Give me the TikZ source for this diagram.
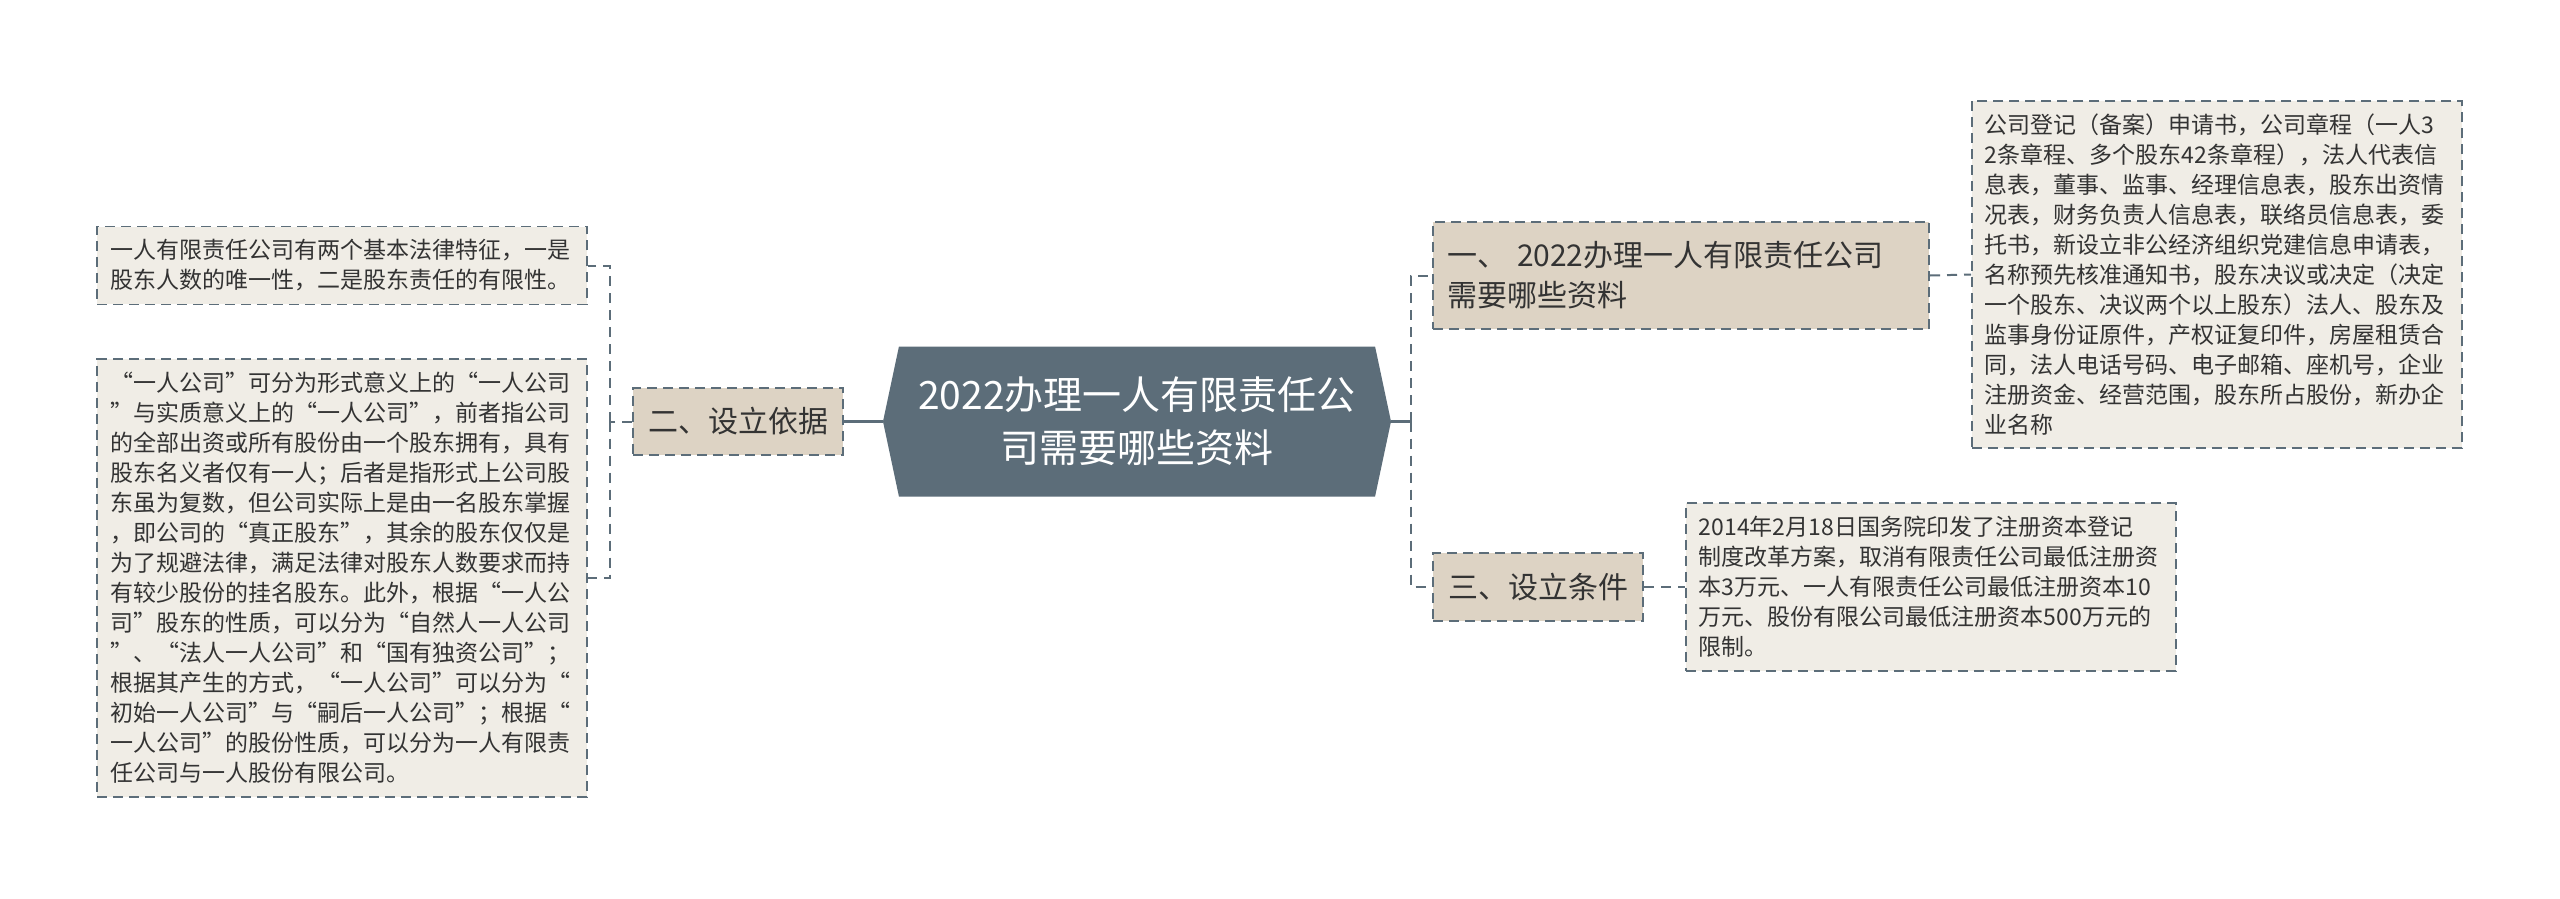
\documentclass[tikz,border=0pt]{standalone}
\usepackage{fontspec}
\setmainfont{Noto Sans CJK SC}
\usetikzlibrary{positioning, shapes.symbols}
\definecolor{SlateGrey}{HTML}{5C6D79}
\definecolor{Sand}{HTML}{DDD3C4}
\definecolor{Paper}{HTML}{F0EDE6}
\definecolor{Ink}{HTML}{333333}

\begin{document}
\begin{tikzpicture}[x=1pt, y=-1pt,
    rootnode/.style={shape=signal, signal to=east and west, signal pointer angle=156,
        fill=SlateGrey, text=white, minimum width=508pt, minimum height=150pt,
        inner sep=0pt, align=center, font=\fontsize{39pt}{53pt}\selectfont},
    branchbox/.style={draw=SlateGrey, fill=Sand, dash pattern=on 10pt off 6pt, line width=2pt,
        text=Ink, inner xsep=15pt, inner ysep=20pt, align=left,
        font=\fontsize{30pt}{40pt}\selectfont},
    detailbox/.style={draw=SlateGrey, fill=Paper, dash pattern=on 10pt off 6pt, line width=1.8pt,
        text=Ink, inner xsep=13pt, inner ysep=13pt, text width=464pt, align=left,
        font=\fontsize{23pt}{30pt}\selectfont},
    link/.style={draw=SlateGrey, line width=3pt},
    dlink/.style={draw=SlateGrey, line width=2pt, dash pattern=on 10pt off 7pt}]
        \fill [white] (0,0) rectangle (2560,899);
        \useasboundingbox (0,0) rectangle (2560,899);

        % Root
        \node [rootnode] (root) at (1137,421.5) {2022办理一人有限责任公\\司需要哪些资料};

        % Left branch
        \node [branchbox, anchor=west] (basis) at (632,421.5) {二、设立依据};
        \node [detailbox, anchor=east] (traits) at (588,265.5)
            {一人有限责任公司有两个基本法律特征，一是\\股东人数的唯一性，二是股东责任的有限性。};
        \node [detailbox, anchor=east] (kinds) at (588,578)
            {“一人公司”可分为形式意义上的“一人公司\\
             ”与实质意义上的“一人公司”，前者指公司\\
             的全部出资或所有股份由一个股东拥有，具有\\
             股东名义者仅有一人；后者是指形式上公司股\\
             东虽为复数，但公司实际上是由一名股东掌握\\
             ，即公司的“真正股东”，其余的股东仅仅是\\
             为了规避法律，满足法律对股东人数要求而持\\
             有较少股份的挂名股东。此外，根据“一人公\\
             司”股东的性质，可以分为“自然人一人公司\\
             ”、“法人一人公司”和“国有独资公司”；\\
             根据其产生的方式，“一人公司”可以分为“\\
             初始一人公司”与“嗣后一人公司”；根据“\\
             一人公司”的股份性质，可以分为一人有限责\\
             任公司与一人股份有限公司。};

        % Right branches
        \node [branchbox, anchor=west, text width=468pt, inner xsep=14pt] (docs) at (1432,275.5)
            {一、 2022办理一人有限责任公司\\需要哪些资料};
        \node [branchbox, anchor=west] (terms) at (1432,587) {三、设立条件};
        \node [detailbox, anchor=west] (doclist) at (1971,274.5)
            {公司登记（备案）申请书，公司章程（一人3\\
             2条章程、多个股东42条章程），法人代表信\\
             息表，董事、监事、经理信息表，股东出资情\\
             况表，财务负责人信息表，联络员信息表，委\\
             托书，新设立非公经济组织党建信息申请表，\\
             名称预先核准通知书，股东决议或决定（决定\\
             一个股东、决议两个以上股东）法人、股东及\\
             监事身份证原件，产权证复印件，房屋租赁合\\
             同，法人电话号码、电子邮箱、座机号，企业\\
             注册资金、经营范围，股东所占股份，新办企\\
             业名称};
        \node [detailbox, anchor=west] (capital) at (1685,587)
            {2014年2月18日国务院印发了注册资本登记\\
             制度改革方案，取消有限责任公司最低注册资\\
             本3万元、一人有限责任公司最低注册资本10\\
             万元、股份有限公司最低注册资本500万元的\\
             限制。};

        % Connectors
        \coordinate (ljoin) at (610,421.5);
        \coordinate (rjoin) at (1411,421.5);
        \draw [link] (root.west) -- (basis.east);
        \draw [dlink] (basis.west) -- (ljoin);
        \draw [dlink] (ljoin) |- (traits.east);
        \draw [dlink] (ljoin) |- (kinds.east);
        \draw [link] (root.east) -- (rjoin);
        \draw [dlink] (rjoin) |- (docs.west);
        \draw [dlink] (rjoin) |- (terms.west);
        \draw [dlink] (docs.east) -- (doclist.west);
        \draw [dlink] (terms.east) -- (capital.west);
    \end{tikzpicture}
\end{document}
